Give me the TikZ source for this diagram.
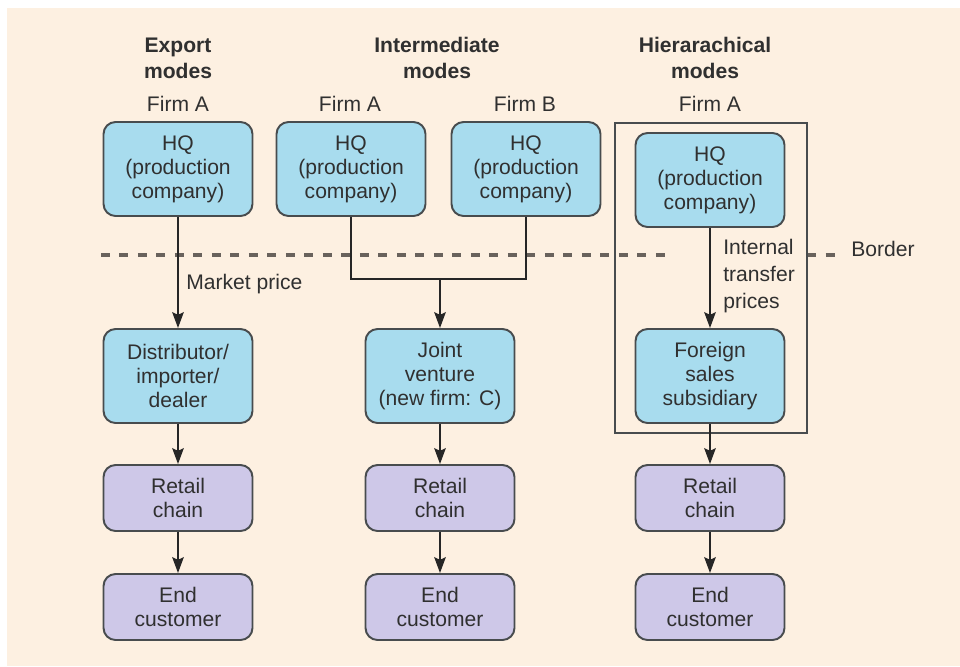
\documentclass[tikz,border=0pt]{standalone}
\usepackage{fontspec}
\setmainfont{Liberation Sans}
\usetikzlibrary{arrows.meta}
\definecolor{bgbeige}{RGB}{253,240,225}
\definecolor{boxblue}{RGB}{168,220,238}
\definecolor{boxlilac}{RGB}{206,200,232}
\definecolor{edgegray}{RGB}{72,76,78}
\definecolor{txtgray}{RGB}{48,48,48}
\definecolor{dashgray}{RGB}{105,98,92}
\tikzstyle{blue box}=[rectangle,rounded corners=0.24cm,draw=edgegray,line width=1.1pt,fill=boxblue,text=txtgray,align=center,minimum width=2.98cm,minimum height=1.88cm,inner sep=2pt,font=\fontsize{12}{13.6}\selectfont]
\tikzstyle{lilac box}=[blue box,fill=boxlilac,minimum height=1.32cm]
\tikzstyle{note}=[text=txtgray,align=left,inner sep=0pt,font=\fontsize{12}{15.5}\selectfont]
\tikzstyle{heading}=[text=txtgray,align=center,inner sep=0pt,font=\bfseries\fontsize{12}{14.7}\selectfont]
\tikzstyle{flow}=[draw=black!85,line width=1.4pt,-{Stealth[length=9pt,width=6.5pt,inset=1.5pt]}]
\tikzstyle{border}=[draw=dashgray,line width=2pt,dash pattern=on 0.18cm off 0.19cm]

\begin{document}
\begin{tikzpicture}[x=0.02cm,y=-0.02cm]
	\useasboundingbox (0,0) rectangle (960,666);
	\fill[bgbeige] (7,8) rectangle (960,666);

	% column headings
	\node (hE) at (178,58) [heading] {Export\\modes};
	\node (hI) at (437,58) [heading] {Intermediate\\modes};
	\node (hH) at (705,58) [heading] {Hierarachical\\modes};
	\node (fE) at (178,104) [note] {Firm A};
	\node (fA) at (350,104) [note] {Firm A};
	\node (fB) at (525,104) [note] {Firm B};
	\node (fH) at (710,104) [note] {Firm A};

	% the border
	\coordinate (bl) at (101,255);
	\coordinate (bm) at (672,255);
	\coordinate (bn) at (807,255);
	\coordinate (br) at (838,255);
	\draw[border] (bl) -- (bm);
	\draw[border] (bn) -- (br);
	\node (bd) at (851,249) [note,anchor=west] {Border};

	% hierarchical frame
	\node (frame) at (711,278) [draw=edgegray,line width=1.1pt,minimum width=3.84cm,minimum height=6.2cm] {};

	% headquarters
	\node (hqE) at (178,169) [blue box] {HQ\\(production\\company)};
	\node (hqA) at (351,169) [blue box] {HQ\\(production\\company)};
	\node (hqB) at (526,169) [blue box] {HQ\\(production\\company)};
	\node (hqH) at (710,180) [blue box] {HQ\\(production\\company)};

	% first tier abroad
	\node (dist) at (178,376) [blue box] {Distributor/\\importer/\\dealer};
	\node (jv) at (440,376) [blue box] {Joint\\venture\\(new firm: C)};
	\node (fss) at (710,376) [blue box] {Foreign\\sales\\subsidiary};

	% retail and customers
	\node (rE) at (178,498) [lilac box] {Retail\\chain};
	\node (rI) at (440,498) [lilac box] {Retail\\chain};
	\node (rH) at (710,498) [lilac box] {Retail\\chain};
	\node (cE) at (178,607) [lilac box] {End\\customer};
	\node (cI) at (440,607) [lilac box] {End\\customer};
	\node (cH) at (710,607) [lilac box] {End\\customer};

	% connectors
	\coordinate (jn) at (440,279);
	\draw[draw=black!85,line width=1.4pt] (hqA.south) |- (jn) -| (hqB.south);
	\draw[flow] (jn) -- (jv);
	\draw[flow] (hqE) -- (dist);
	\draw[flow] (hqH) -- (fss);
	\draw[flow] (dist) -- (rE);
	\draw[flow] (jv) -- (rI);
	\draw[flow] (fss) -- (rH);
	\draw[flow] (rE) -- (cE);
	\draw[flow] (rI) -- (cI);
	\draw[flow] (rH) -- (cH);

	\node (mp) at (186,284) [note,anchor=west] {Market price};
	\node (itp) at (723,276) [note,anchor=west] {Internal\\transfer\\prices};
\end{tikzpicture}
\end{document}
